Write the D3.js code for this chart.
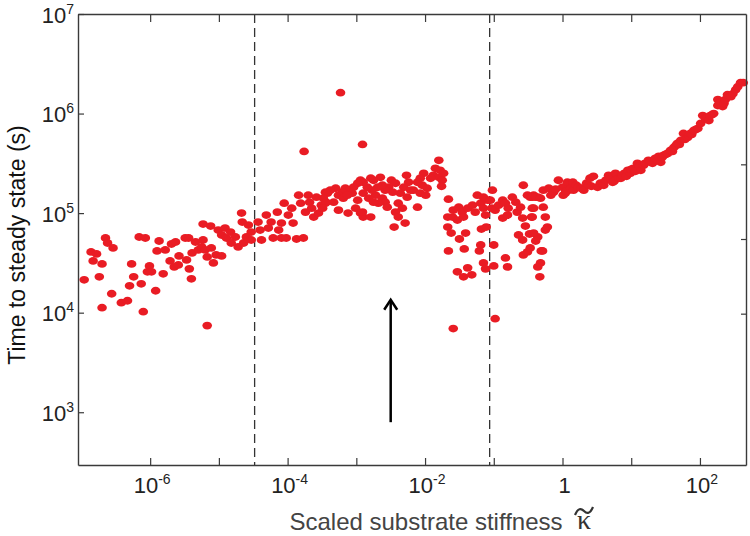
<!DOCTYPE html>
<html><head><meta charset="utf-8">
<script src="https://cdn.jsdelivr.net/npm/d3@7"></script>
<style>body{margin:0;background:#fff}</style>
</head><body><svg id="c" width="750" height="536"></svg>
<script>
// ---- data (log10 of values) ----
const xDomainExp = [-7.05, 2.67];
const yDomainExp = [2.47, 7];
const xMajorExps = [-6, -4, -2, 0, 2];
const xMinorExps = [-5, -3, -1, 1];
const yMajorExps = [3, 4, 5, 6, 7];
const rightTickExps = [5.49, 4.74, 3.99];
const thresholdExps = [-4.48, -1.06];
const arrowKappaExp = [-2.50];
const arrowTimeExp = [2.90, 4.13];

// [log10 kappa, log10 time]
const soft = [
[-6.96,4.33],[-6.74,4.36],[-6.70,4.05],[-6.56,4.19],[-6.42,4.10],[-6.33,4.12],[-6.86,4.61],[-6.78,4.59],
[-6.83,4.52],[-6.70,4.49],[-6.65,4.75],[-6.62,4.70],[-6.54,4.65],[-6.27,4.49],[-6.24,4.36],[-6.30,4.27],
[-6.13,4.29],[-6.10,4.01],[-6.16,4.76],[-6.07,4.75],[-6.01,4.47],[-6.04,4.41],[-5.98,4.41],[-5.92,4.22],
[-5.87,4.72],[-5.90,4.62],[-5.81,4.39],[-5.78,4.63],[-5.69,4.69],[-5.63,4.71],[-5.71,4.52],[-5.65,4.46],
[-5.59,4.48],[-5.58,4.57],[-5.49,4.75],[-5.44,4.75],[-5.47,4.53],[-5.43,4.44],[-5.40,4.34],[-5.39,4.60],
[-5.34,4.71],[-5.30,4.63],[-5.25,4.66],[-5.23,4.73],[-5.20,4.63],[-5.17,4.56],[-5.11,4.65],[-5.08,4.50],
[-5.17,3.87],[-5.23,4.89],[-5.12,4.87],[-5.04,4.58],[-4.96,4.57],[-5.01,4.83],[-4.96,4.78],[-4.91,4.85],
[-4.89,4.75],[-4.83,4.81],[-4.82,4.70],[-4.76,4.76],[-4.72,4.66],[-4.67,5.00],[-4.66,4.91],[-4.64,4.70],
[-4.57,4.88],[-4.60,4.76],[-4.53,4.81],[-4.53,4.73],[-4.43,4.91],[-4.40,4.83],[-4.38,4.73],[-4.31,4.98],
[-4.28,4.85],[-4.24,4.91],[-4.21,4.75],[-4.15,5.01],[-4.13,4.83],[-4.09,4.90],[-4.09,4.75],[-4.05,5.10],
[-4.02,4.75],[-3.99,4.98],[-3.94,5.05],[-3.92,4.90],[-3.87,4.74],[-3.84,5.18],[-3.81,5.10],[-3.77,4.75],
[-3.74,5.01],[-3.70,5.18],[-3.68,5.11],[-3.65,5.05],[-3.62,4.96],[-3.58,5.16],[-3.55,5.00],[-3.51,5.08],
[-3.45,5.21],[-3.44,5.11],[-3.76,5.62]
];
const intermediate = [
[-3.23,6.21],[-2.91,5.69],[-1.80,5.53],[-1.85,5.45],[-1.78,5.43],[-1.73,5.40],[-1.88,5.38],[-1.80,5.36],
[-1.92,5.35],[-1.75,5.33],[-1.76,5.27],[-2.02,5.40],[-2.07,5.35],[-2.04,5.28],[-1.97,5.25],[-2.11,5.31],
[-2.17,5.23],[-2.07,5.20],[-1.99,5.18],[-2.27,5.38],[-2.24,5.31],[-2.31,5.26],[-2.21,5.23],[-2.36,5.20],
[-2.26,5.16],[-2.11,5.06],[-2.39,5.10],[-2.33,5.05],[-2.43,5.01],[-2.39,4.96],[-2.29,4.90],[-2.45,4.86],
[-2.49,5.33],[-2.43,5.30],[-2.53,5.26],[-2.47,5.21],[-2.58,5.23],[-2.65,5.36],[-2.62,5.28],[-2.69,5.26],
[-2.75,5.33],[-2.79,5.35],[-2.72,5.18],[-2.62,5.15],[-2.58,5.11],[-2.55,5.06],[-2.68,5.10],[-2.77,5.23],
[-2.84,5.26],[-2.90,5.31],[-2.94,5.33],[-2.98,5.30],[-3.04,5.26],[-2.90,5.20],[-2.82,5.15],[-2.75,5.11],
[-2.98,5.13],[-3.06,5.20],[-3.12,5.23],[-3.16,5.25],[-3.20,5.21],[-3.26,5.18],[-3.19,5.15],[-3.13,5.18],
[-3.30,5.25],[-3.38,5.23],[-3.42,5.20],[-3.48,5.15],[-3.45,5.10],[-3.49,5.05],[-3.33,5.11],[-3.26,5.03],
[-3.12,5.00],[-3.01,5.05],[-2.94,5.00],[-2.90,4.96],[-2.79,4.96],[-2.91,5.01],
[-1.66,5.14],[-1.67,4.96],[-1.60,4.96],[-1.67,4.86],[-1.62,4.80],[-1.66,4.62],[-1.53,4.41],[-1.44,4.36],
[-1.38,4.45],[-1.32,4.38],[-1.59,5.03],[-1.51,5.06],[-1.46,5.01],[-1.53,4.93],[-1.44,4.96],[-1.38,5.05],
[-1.31,5.08],[-1.27,5.01],[-1.24,5.18],[-1.19,5.10],[-1.15,5.05],[-1.12,4.98],[-1.09,5.13],[-1.15,5.16],
[-1.41,4.80],[-1.50,4.74],[-1.43,4.64],[-1.19,4.68],[-1.21,4.62],[-1.18,4.84],[-1.11,4.86],[-1.15,4.50],
[-1.12,4.44],[-1.00,4.47],[-1.00,4.68],[-1.02,5.23],[-1.05,5.13],[-1.03,5.05],[-1.59,3.84],[-0.98,3.94],
[-0.98,5.03],[-0.93,5.08],[-0.87,5.13],[-0.83,5.10],[-0.79,5.05],[-0.73,5.16],[-0.68,5.11],[-0.66,5.01],
[-0.61,5.06],[-0.57,5.28],[-0.51,5.18],[-0.47,5.16],[-0.42,5.18],[-0.36,5.16],[-0.58,4.95],[-0.44,5.05],
[-0.45,4.96],[-0.54,4.87],[-0.64,4.78],[-0.58,4.73],[-0.48,4.79],[-0.36,4.76],[-0.39,4.72],[-0.28,5.06],
[-0.25,4.96],[-0.22,4.86],[-0.29,4.62],[-0.32,4.50],[-0.33,4.36],[-0.57,4.58],[-0.51,4.61],[-0.83,4.55],
[-0.80,4.46],[-0.87,4.95],[-0.80,4.98],[-0.44,5.16],[-0.39,5.16],[-0.42,5.05],[-0.44,4.96],[-0.42,4.80],
[-0.47,4.65],[-0.25,4.83],[-0.31,4.62],[-0.36,4.46],[-0.32,5.15]
];
const stiff = [
[-0.28,5.23],[-0.20,5.25],[-0.13,5.21],[-0.06,5.33],[0.00,5.26],[0.07,5.31],[0.04,5.20],[0.09,5.23],
[-0.17,5.18],[-0.10,5.24],[0.01,5.18],[0.05,5.22],[0.12,5.25],[0.15,5.31],[0.16,5.23],[0.20,5.28],
[0.23,5.26],[0.27,5.25],[0.31,5.23],[0.35,5.30],[0.38,5.28],[0.40,5.35],[0.42,5.27],[0.45,5.37],
[0.51,5.26],[0.55,5.30],[0.58,5.30],[0.60,5.28],[0.63,5.33],[0.67,5.38],[0.70,5.34],[0.73,5.31],
[0.75,5.32],[0.77,5.40],[0.80,5.38],[0.82,5.35],[0.85,5.35],[0.87,5.38],[0.90,5.40],[0.93,5.37],
[0.95,5.43],[0.99,5.40],[1.00,5.44],[1.03,5.45],[1.06,5.42],[1.09,5.50],[1.12,5.47],[1.14,5.43],
[1.18,5.48],[1.20,5.50],[1.25,5.53],[1.28,5.52],[1.31,5.50],[1.35,5.55],[1.38,5.53],[1.40,5.57],
[1.43,5.51],[1.45,5.56],[1.47,5.58],[1.50,5.59],[1.53,5.60],[1.57,5.63],[1.60,5.62],[1.62,5.66],
[1.65,5.68],[1.67,5.70],[1.70,5.69],[1.72,5.73],[1.76,5.80],[1.78,5.74],[1.82,5.76],[1.84,5.78],
[1.86,5.80],[1.88,5.79],[1.91,5.83],[1.94,5.84],[1.97,5.85],[2.01,5.90],[2.04,5.98],[2.08,5.95],
[2.10,5.96],[2.13,5.93],[2.15,5.98],[2.18,5.99],[2.20,6.00],[2.26,6.08],[2.26,6.14],[2.28,6.09],
[2.30,6.11],[2.33,6.07],[2.35,6.10],[2.37,6.14],[2.40,6.19],[2.45,6.17],[2.48,6.20],[2.52,6.24],
[2.55,6.27],[2.59,6.31],[2.63,6.31]
];

// ---- drawing ----
const svg = d3.select("#c");
const L = 78, R = 746, T = 14, B = 465;
const p10 = e => Math.pow(10, e);
const x = d3.scaleLog().domain(xDomainExp.map(p10)).range([L, R]);
const y = d3.scaleLog().domain(yDomainExp.map(p10)).range([B, T]);
const FONT = "'Liberation Sans', Arial, Helvetica, sans-serif";
const SERIF = "'Liberation Serif', 'DejaVu Serif', serif";
const axisColor = "#3a3a3a";

const allPts = [...soft, ...intermediate, ...stiff].map(d => ({k: p10(d[0]), t: p10(d[1])}));

// dashed threshold lines
svg.append("g").selectAll("line").data(thresholdExps).join("line")
  .attr("x1", d => x(p10(d))).attr("x2", d => x(p10(d)))
  .attr("y1", T).attr("y2", B)
  .attr("stroke", "#333").attr("stroke-width", 1.3).attr("stroke-dasharray", "9,5");

// points
svg.append("g").selectAll("ellipse").data(allPts).join("ellipse")
  .attr("cx", d => x(d.k)).attr("cy", d => y(d.t))
  .attr("rx", 4.8).attr("ry", 3.9)
  .attr("fill", "#e91c24");

// axes
const xTicksAll = [...xMajorExps, ...xMinorExps].map(p10);
function styleAxis(g) {
  g.select(".domain").attr("stroke", axisColor).attr("stroke-width", 1.4);
  g.selectAll(".tick line").attr("stroke", axisColor).attr("stroke-width", 1.2);
  g.selectAll(".tick text").remove();
}
svg.append("g").attr("transform", `translate(0,${B})`)
  .call(d3.axisBottom(x).tickValues(xTicksAll).tickSize(-7).tickSizeOuter(0)).call(styleAxis);
svg.append("g").attr("transform", `translate(0,${T})`)
  .call(d3.axisTop(x).tickValues(xTicksAll).tickSize(-8).tickSizeOuter(0)).call(styleAxis);
svg.append("g").attr("transform", `translate(${L},0)`)
  .call(d3.axisLeft(y).tickValues(yMajorExps.map(p10)).tickSize(-6).tickSizeOuter(0)).call(styleAxis);
svg.append("g").attr("transform", `translate(${R},0)`)
  .call(d3.axisRight(y).tickValues(rightTickExps.map(p10)).tickSize(-5).tickSizeOuter(0)).call(styleAxis);

// x tick labels
const xl = svg.append("g").attr("font-family", FONT).attr("fill", "#222");
xMajorExps.forEach(e => {
  const t = xl.append("text").attr("x", x(p10(e)) + 2).attr("y", 493)
    .attr("text-anchor", "middle").attr("font-size", 22);
  if (e === 0) { t.text("1"); return; }
  t.append("tspan").text("10");
  t.append("tspan").attr("dy", -9).attr("font-size", 14).text(e);
});
// y tick labels
yMajorExps.forEach(e => {
  const t = xl.append("text").attr("x", 74).attr("y", y(p10(e)) + 8.5)
    .attr("text-anchor", "end").attr("font-size", 22);
  t.append("tspan").text("10");
  t.append("tspan").attr("dy", -9).attr("font-size", 14).text(e);
});

// axis titles
svg.append("text").attr("x", 426).attr("y", 530).attr("text-anchor", "middle")
  .attr("font-family", FONT).attr("font-size", 24).attr("fill", "#444")
  .text("Scaled substrate stiffness");
svg.append("text").attr("x", 584).attr("y", 529).attr("text-anchor", "middle")
  .attr("font-family", SERIF).attr("font-size", 28).attr("fill", "#333")
  .text("κ");
// tilde accent above kappa
svg.append("path")
  .attr("d", "M575,515 C578,508 581,508 584,511 C587,514 590,514 593,507")
  .attr("fill", "none").attr("stroke", "#333").attr("stroke-width", 2.2);
svg.append("text").attr("transform", "translate(25,245) rotate(-90)").attr("text-anchor", "middle")
  .attr("font-family", FONT).attr("font-size", 23).attr("fill", "#111")
  .text("Time to steady state (s)");

// arrow
const ax = x(p10(arrowKappaExp[0]));
const ay0 = y(p10(arrowTimeExp[0])), ay1 = y(p10(arrowTimeExp[1]));
svg.append("line").attr("x1", ax).attr("x2", ax).attr("y1", ay0).attr("y2", ay1 + 1)
  .attr("stroke", "#000").attr("stroke-width", 2.5);
svg.append("path").attr("d", `M${ax - 6.5},${ay1 + 10} L${ax},${ay1} L${ax + 6.5},${ay1 + 10}`)
  .attr("fill", "none").attr("stroke", "#000").attr("stroke-width", 2.5);
</script></body></html>
